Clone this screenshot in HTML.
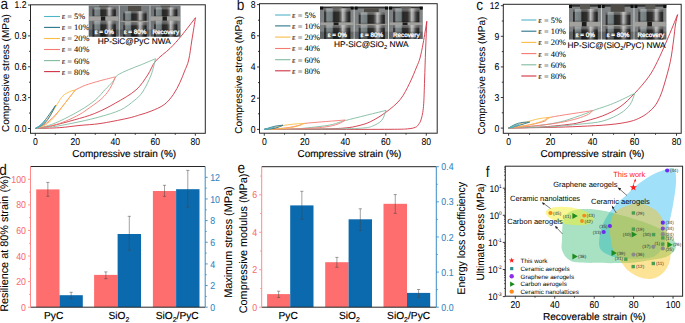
<!DOCTYPE html><html><head><meta charset="utf-8"><style>html,body{margin:0;padding:0;background:#fff;overflow:hidden}svg{display:block}text{text-rendering:geometricPrecision}</style></head><body>
<svg width="685" height="323" viewBox="0 0 685 323">
<defs>
<linearGradient id="cyl" x1="0" x2="1" y1="0" y2="0">
<stop offset="0" stop-color="#2a2a2a"/><stop offset="0.06" stop-color="#4a4a4a"/><stop offset="0.1" stop-color="#9aa6a8"/>
<stop offset="0.3" stop-color="#8a9698"/><stop offset="0.36" stop-color="#2e2e2e"/><stop offset="0.55" stop-color="#3c3a38"/>
<stop offset="0.63" stop-color="#7a7a7a"/><stop offset="0.7" stop-color="#e2e2e2"/><stop offset="0.77" stop-color="#b5b5b5"/>
<stop offset="0.86" stop-color="#555"/><stop offset="0.95" stop-color="#2a2a2a"/><stop offset="1" stop-color="#444"/></linearGradient>
<linearGradient id="bgp" x1="0" x2="1"><stop offset="0" stop-color="#8c9296"/><stop offset="0.5" stop-color="#a2a5a6"/><stop offset="1" stop-color="#9a9c9c"/></linearGradient>
<linearGradient id="shade" x1="0" x2="0" y1="0" y2="1"><stop offset="0" stop-color="#fff" stop-opacity="0.45"/><stop offset="0.2" stop-color="#fff" stop-opacity="0.25"/><stop offset="0.26" stop-color="#fff" stop-opacity="0"/><stop offset="0.85" stop-color="#000" stop-opacity="0"/><stop offset="1" stop-color="#000" stop-opacity="0.3"/></linearGradient>

</defs>
<path d="M35.30,128.50 C37.97,128.07 44.83,127.35 51.30,125.93 C57.77,124.50 66.87,122.03 74.10,119.96 C81.33,117.88 87.83,116.27 94.70,113.48 C101.57,110.68 108.43,107.10 115.30,103.19 C122.17,99.28 130.50,94.71 135.90,90.02 C141.30,85.32 144.42,79.81 147.70,74.99 C150.98,70.17 151.88,65.53 155.60,61.10 C159.32,56.68 165.72,52.65 170.00,48.44 C174.28,44.24 177.05,41.02 181.30,35.89 C185.55,30.76 193.13,20.71 195.50,17.68" fill="none" stroke="#cf3243" stroke-width="0.9" stroke-linejoin="round"/>
<path d="M195.50,17.68 C194.90,21.40 193.03,32.96 191.90,40.01 C190.77,47.05 189.92,54.79 188.70,59.97 C187.48,65.15 186.05,67.36 184.60,71.08 C183.15,74.80 181.87,78.40 180.00,82.30 C178.13,86.19 176.03,90.72 173.40,94.44 C170.77,98.16 167.92,101.85 164.20,104.63 C160.48,107.41 155.13,109.41 151.10,111.11 C147.07,112.81 144.02,113.60 140.00,114.81 C135.98,116.03 133.67,116.96 127.00,118.42 C120.33,119.87 107.83,122.39 100.00,123.56 C92.17,124.73 86.78,124.73 80.00,125.41 C73.22,126.10 66.75,127.16 59.30,127.68 C51.85,128.19 39.30,128.36 35.30,128.50" fill="none" stroke="#cf3243" stroke-width="0.9" stroke-linejoin="round"/>
<path d="M35.30,128.50 C36.97,128.16 41.30,127.64 45.30,126.44 C49.30,125.24 53.52,123.96 59.30,121.30 C65.08,118.64 74.00,114.04 80.00,110.49 C86.00,106.94 91.08,103.51 95.30,100.00 C99.52,96.48 102.47,92.36 105.30,89.40 C108.13,86.43 110.28,84.54 112.30,82.19 C114.32,79.85 114.68,77.38 117.40,75.30 C120.12,73.23 124.62,71.51 128.60,69.74 C132.58,67.98 136.82,66.54 141.30,64.70 C145.78,62.87 153.13,59.73 155.50,58.73" fill="none" stroke="#82bba0" stroke-width="0.9" stroke-linejoin="round"/>
<path d="M155.50,58.73 C154.77,61.44 153.25,69.45 151.10,74.99 C148.95,80.53 145.43,87.70 142.60,91.97 C139.77,96.24 137.78,97.61 134.10,100.61 C130.42,103.62 126.18,107.29 120.50,109.98 C114.82,112.67 106.75,114.83 100.00,116.77 C93.25,118.71 87.45,119.99 80.00,121.61 C72.55,123.22 62.75,125.29 55.30,126.44 C47.85,127.59 38.63,128.16 35.30,128.50" fill="none" stroke="#82bba0" stroke-width="0.9" stroke-linejoin="round"/>
<path d="M35.30,128.50 C36.63,127.99 39.97,127.64 43.30,125.41 C46.63,123.18 51.63,118.90 55.30,115.12 C58.97,111.35 61.97,106.98 65.30,102.78 C68.63,98.57 73.63,92.06 75.30,89.91" fill="none" stroke="#f57a74" stroke-width="0.9" stroke-linejoin="round"/>
<path d="M75.30,89.91 C76.97,89.14 81.18,86.81 85.30,85.28 C89.42,83.76 94.97,82.16 100.00,80.75 C105.03,79.35 112.92,77.50 115.50,76.84" fill="none" stroke="#f57a74" stroke-width="0.9" stroke-linejoin="round"/>
<path d="M115.50,76.84 C114.97,78.08 113.67,81.65 112.30,84.25 C110.93,86.86 109.33,89.86 107.30,92.48 C105.27,95.11 103.10,97.42 100.10,100.00 C97.10,102.57 92.65,105.55 89.30,107.92 C85.95,110.29 84.00,111.97 80.00,114.20 C76.00,116.43 70.08,119.34 65.30,121.30 C60.52,123.25 56.30,124.73 51.30,125.93 C46.30,127.13 37.97,128.07 35.30,128.50" fill="none" stroke="#f57a74" stroke-width="0.9" stroke-linejoin="round"/>
<path d="M35.30,128.50 C36.30,127.99 39.30,126.96 41.30,125.41 C43.30,123.87 45.23,121.81 47.30,119.24 C49.37,116.67 51.20,113.75 53.70,109.98 C56.20,106.20 59.63,99.65 62.30,96.60 C64.97,93.55 67.50,92.78 69.70,91.66 C71.90,90.55 74.53,90.20 75.50,89.91" fill="none" stroke="#f9bd48" stroke-width="0.9" stroke-linejoin="round"/>
<path d="M75.50,89.91 C74.47,91.20 71.67,94.63 69.30,97.63 C66.93,100.63 63.97,104.49 61.30,107.92 C58.63,111.35 55.97,115.38 53.30,118.21 C50.63,121.04 48.30,123.18 45.30,124.90 C42.30,126.61 36.97,127.90 35.30,128.50" fill="none" stroke="#f9bd48" stroke-width="0.9" stroke-linejoin="round"/>
<path d="M35.30,128.50 C36.30,127.81 39.30,126.27 41.30,124.38 C43.30,122.50 44.93,120.34 47.30,117.18 C49.67,114.03 54.13,107.41 55.50,105.45" fill="none" stroke="#2b7489" stroke-width="0.9" stroke-linejoin="round"/>
<path d="M55.50,105.45 C54.47,107.41 51.33,114.03 49.30,117.18 C47.27,120.34 45.63,122.50 43.30,124.38 C40.97,126.27 36.63,127.81 35.30,128.50" fill="none" stroke="#2b7489" stroke-width="0.9" stroke-linejoin="round"/>
<path d="M35.30,128.50 C36.13,127.99 38.63,126.78 40.30,125.41 C41.97,124.04 44.47,121.13 45.30,120.27" fill="none" stroke="#4fb3c9" stroke-width="0.9" stroke-linejoin="round"/>
<path d="M45.30,120.27 C44.63,121.13 42.97,124.04 41.30,125.41 C39.63,126.78 36.30,127.99 35.30,128.50" fill="none" stroke="#4fb3c9" stroke-width="0.9" stroke-linejoin="round"/>
<rect x="30.5" y="4.8" width="174.8" height="128.5" fill="none" stroke="#262626" stroke-width="1"/>
<line x1="35.30" y1="133.3" x2="35.30" y2="135.8" stroke="#262626" stroke-width="0.9"/>
<text transform="translate(35.30,144.70000000000002) scale(0.875,1)" font-size="9.9" text-anchor="middle" fill="#000" stroke="#000" stroke-width="0.05" font-family='"Liberation Sans", sans-serif'>0</text>
<line x1="75.30" y1="133.3" x2="75.30" y2="135.8" stroke="#262626" stroke-width="0.9"/>
<text transform="translate(75.30,144.70000000000002) scale(0.875,1)" font-size="9.9" text-anchor="middle" fill="#000" stroke="#000" stroke-width="0.05" font-family='"Liberation Sans", sans-serif'>20</text>
<line x1="115.30" y1="133.3" x2="115.30" y2="135.8" stroke="#262626" stroke-width="0.9"/>
<text transform="translate(115.30,144.70000000000002) scale(0.875,1)" font-size="9.9" text-anchor="middle" fill="#000" stroke="#000" stroke-width="0.05" font-family='"Liberation Sans", sans-serif'>40</text>
<line x1="155.30" y1="133.3" x2="155.30" y2="135.8" stroke="#262626" stroke-width="0.9"/>
<text transform="translate(155.30,144.70000000000002) scale(0.875,1)" font-size="9.9" text-anchor="middle" fill="#000" stroke="#000" stroke-width="0.05" font-family='"Liberation Sans", sans-serif'>60</text>
<line x1="195.30" y1="133.3" x2="195.30" y2="135.8" stroke="#262626" stroke-width="0.9"/>
<text transform="translate(195.30,144.70000000000002) scale(0.875,1)" font-size="9.9" text-anchor="middle" fill="#000" stroke="#000" stroke-width="0.05" font-family='"Liberation Sans", sans-serif'>80</text>
<line x1="55.30" y1="133.3" x2="55.30" y2="134.8" stroke="#262626" stroke-width="0.9"/>
<line x1="95.30" y1="133.3" x2="95.30" y2="134.8" stroke="#262626" stroke-width="0.9"/>
<line x1="135.30" y1="133.3" x2="135.30" y2="134.8" stroke="#262626" stroke-width="0.9"/>
<line x1="175.30" y1="133.3" x2="175.30" y2="134.8" stroke="#262626" stroke-width="0.9"/>
<line x1="28.0" y1="128.50" x2="30.5" y2="128.50" stroke="#262626" stroke-width="0.9"/>
<text transform="translate(26.5,131.95) scale(0.875,1)" font-size="9.9" text-anchor="end" fill="#000" stroke="#000" stroke-width="0.05" font-family='"Liberation Sans", sans-serif'>0.0</text>
<line x1="28.0" y1="97.63" x2="30.5" y2="97.63" stroke="#262626" stroke-width="0.9"/>
<text transform="translate(26.5,101.08) scale(0.875,1)" font-size="9.9" text-anchor="end" fill="#000" stroke="#000" stroke-width="0.05" font-family='"Liberation Sans", sans-serif'>0.3</text>
<line x1="28.0" y1="66.76" x2="30.5" y2="66.76" stroke="#262626" stroke-width="0.9"/>
<text transform="translate(26.5,70.21) scale(0.875,1)" font-size="9.9" text-anchor="end" fill="#000" stroke="#000" stroke-width="0.05" font-family='"Liberation Sans", sans-serif'>0.6</text>
<line x1="28.0" y1="35.89" x2="30.5" y2="35.89" stroke="#262626" stroke-width="0.9"/>
<text transform="translate(26.5,39.34) scale(0.875,1)" font-size="9.9" text-anchor="end" fill="#000" stroke="#000" stroke-width="0.05" font-family='"Liberation Sans", sans-serif'>0.9</text>
<line x1="28.0" y1="5.02" x2="30.5" y2="5.02" stroke="#262626" stroke-width="0.9"/>
<text transform="translate(26.5,8.47) scale(0.875,1)" font-size="9.9" text-anchor="end" fill="#000" stroke="#000" stroke-width="0.05" font-family='"Liberation Sans", sans-serif'>1.2</text>
<line x1="29.0" y1="113.06" x2="30.5" y2="113.06" stroke="#262626" stroke-width="0.9"/>
<line x1="29.0" y1="82.19" x2="30.5" y2="82.19" stroke="#262626" stroke-width="0.9"/>
<line x1="29.0" y1="51.32" x2="30.5" y2="51.32" stroke="#262626" stroke-width="0.9"/>
<line x1="29.0" y1="20.45" x2="30.5" y2="20.45" stroke="#262626" stroke-width="0.9"/>
<text x="124.2" y="156.8" font-size="10" text-anchor="middle" fill="#000" font-family='"Liberation Sans", sans-serif' stroke="#000" stroke-width="0.15">Compressive strain (%)</text>
<text transform="translate(8.6,73.1) rotate(-90) scale(1,1)" font-size="10" text-anchor="middle" fill="#000" stroke="#000" stroke-width="0.06" font-family='"Liberation Sans", sans-serif'>Compressive stress (MPa)</text>
<text transform="translate(0.6,9.0) scale(0.88,1)" font-size="15.5" fill="#111" font-family='"Liberation Sans", sans-serif'>a</text>
<line x1="44.1" y1="16.5" x2="60.0" y2="16.5" stroke="#4fb3c9" stroke-width="1.1"/>
<text x="61.7" y="19.40" font-size="8.4" text-anchor="start" fill="#000" font-family='"Liberation Serif", serif' stroke="#000" stroke-width="0.05">ε = 5%</text>
<line x1="44.1" y1="27.4" x2="60.0" y2="27.4" stroke="#2b7489" stroke-width="1.1"/>
<text x="61.7" y="30.30" font-size="8.4" text-anchor="start" fill="#000" font-family='"Liberation Serif", serif' stroke="#000" stroke-width="0.05">ε = 10%</text>
<line x1="44.1" y1="38.5" x2="60.0" y2="38.5" stroke="#f9bd48" stroke-width="1.1"/>
<text x="61.7" y="41.40" font-size="8.4" text-anchor="start" fill="#000" font-family='"Liberation Serif", serif' stroke="#000" stroke-width="0.05">ε = 20%</text>
<line x1="44.1" y1="49.5" x2="60.0" y2="49.5" stroke="#f57a74" stroke-width="1.1"/>
<text x="61.7" y="52.40" font-size="8.4" text-anchor="start" fill="#000" font-family='"Liberation Serif", serif' stroke="#000" stroke-width="0.05">ε = 40%</text>
<line x1="44.1" y1="60.6" x2="60.0" y2="60.6" stroke="#82bba0" stroke-width="1.1"/>
<text x="61.7" y="63.50" font-size="8.4" text-anchor="start" fill="#000" font-family='"Liberation Serif", serif' stroke="#000" stroke-width="0.05">ε = 60%</text>
<line x1="44.1" y1="71.6" x2="60.0" y2="71.6" stroke="#cf3243" stroke-width="1.1"/>
<text x="61.7" y="74.50" font-size="8.4" text-anchor="start" fill="#000" font-family='"Liberation Serif", serif' stroke="#000" stroke-width="0.05">ε = 80%</text>
<g transform="translate(88.80,5.6) scale(0.9375,1.0000)">
<rect x="0" y="0" width="32" height="31" fill="#7f868a"/>
<rect x="0" y="0" width="32" height="31" fill="url(#bgp)" opacity="0.5"/>
<rect x="11" y="0" width="10" height="2.4" fill="#6d6a64"/>
<rect x="4" y="1.9" width="25" height="8.90" fill="url(#cyl)"/><rect x="4" y="1.9" width="25" height="8.90" fill="url(#shade)"/>
<rect x="0.5" y="10.8" width="31" height="4.40" fill="#c3c2bd"/>
<rect x="12.9" y="10.8" width="4.7" height="4.40" fill="#222"/>
<rect x="4" y="15.2" width="25" height="15.80" fill="url(#cyl)"/><rect x="4" y="15.2" width="25" height="15.80" fill="url(#shade)"/>
<rect x="0" y="24" width="32" height="7" fill="#000" opacity="0.22"/>
<rect x="0" y="0" width="32" height="31" fill="#000" opacity="0.17"/>
</g>
<text x="104.20" y="34.40" font-size="6.3" text-anchor="middle" fill="#ffffff" font-family='"Liberation Sans", sans-serif' stroke="#fff" stroke-width="0.3">ε = 0%</text>
<g transform="translate(119.60,5.6) scale(0.9375,1.0000)">
<rect x="0" y="0" width="32" height="31" fill="#7f868a"/>
<rect x="0" y="0" width="32" height="31" fill="url(#bgp)" opacity="0.5"/>
<rect x="9" y="0.4" width="14" height="5.3999999999999995" fill="#5e5b55"/>
<rect x="4" y="5.8" width="25" height="9.40" fill="url(#cyl)"/><rect x="4" y="5.8" width="25" height="9.40" fill="url(#shade)"/>
<rect x="1" y="15.2" width="30" height="1.20" fill="#bdbab2"/>
<rect x="4" y="16.4" width="25" height="14.60" fill="url(#cyl)"/><rect x="4" y="16.4" width="25" height="14.60" fill="url(#shade)"/>
<rect x="0" y="24" width="32" height="7" fill="#000" opacity="0.22"/>
<rect x="0" y="0" width="32" height="31" fill="#000" opacity="0.17"/>
</g>
<text x="135.00" y="34.40" font-size="6.3" text-anchor="middle" fill="#ffffff" font-family='"Liberation Sans", sans-serif' stroke="#fff" stroke-width="0.3">ε = 80%</text>
<g transform="translate(150.40,5.6) scale(0.9375,1.0000)">
<rect x="0" y="0" width="32" height="31" fill="#7f868a"/>
<rect x="0" y="0" width="32" height="31" fill="url(#bgp)" opacity="0.5"/>
<rect x="11" y="0" width="10" height="2.4" fill="#6d6a64"/>
<rect x="4" y="1.9" width="25" height="8.90" fill="url(#cyl)"/><rect x="4" y="1.9" width="25" height="8.90" fill="url(#shade)"/>
<rect x="0.5" y="10.8" width="31" height="4.40" fill="#c3c2bd"/>
<rect x="12.9" y="10.8" width="4.7" height="4.40" fill="#222"/>
<rect x="4" y="15.2" width="25" height="15.80" fill="url(#cyl)"/><rect x="4" y="15.2" width="25" height="15.80" fill="url(#shade)"/>
<rect x="0" y="24" width="32" height="7" fill="#000" opacity="0.22"/>
<rect x="0" y="0" width="32" height="31" fill="#000" opacity="0.17"/>
</g>
<text x="165.80" y="34.40" font-size="6.3" text-anchor="middle" fill="#ffffff" font-family='"Liberation Sans", sans-serif' stroke="#fff" stroke-width="0.3">Recovery</text>
<text x="134.2" y="44.2" font-size="8.3" text-anchor="middle" fill="#000" stroke="#000" stroke-width="0.1" font-family='"Liberation Sans", sans-serif'>HP-SiC@PyC NWA</text>
<path d="M264.30,129.40 C273.58,129.33 306.55,129.23 320.00,129.00 C333.45,128.77 338.67,128.53 345.00,128.00 C351.33,127.47 353.80,126.83 358.00,125.80 C362.20,124.77 365.53,124.07 370.20,121.80 C374.87,119.53 380.98,115.93 386.00,112.20 C391.02,108.47 396.37,104.23 400.30,99.40 C404.23,94.57 406.88,88.60 409.60,83.20 C412.32,77.80 414.87,71.20 416.60,67.00 C418.33,62.80 418.90,62.00 420.00,58.00 C421.10,54.00 422.07,49.12 423.20,43.00 C424.33,36.88 426.20,24.92 426.80,21.30" fill="none" stroke="#cf3243" stroke-width="0.9" stroke-linejoin="round"/>
<path d="M426.80,21.30 C426.60,26.08 425.97,40.22 425.60,50.00 C425.23,59.78 424.95,70.60 424.60,80.00 C424.25,89.40 424.07,99.87 423.50,106.40 C422.93,112.93 422.03,116.18 421.20,119.20 C420.37,122.22 419.47,123.15 418.50,124.50 C417.53,125.85 417.27,126.57 415.40,127.30 C413.53,128.03 411.53,128.57 407.30,128.90 C403.07,129.23 402.88,129.22 390.00,129.30 C377.12,129.38 350.95,129.38 330.00,129.40 C309.05,129.42 275.25,129.40 264.30,129.40" fill="none" stroke="#cf3243" stroke-width="0.9" stroke-linejoin="round"/>
<path d="M264.30,129.40 C268.58,129.37 283.05,129.43 290.00,129.20 C296.95,128.97 299.33,128.70 306.00,128.00 C312.67,127.30 323.42,126.25 330.00,125.00 C336.58,123.75 336.17,122.93 345.50,120.50 C354.83,118.07 379.25,112.08 386.00,110.40" fill="none" stroke="#82bba0" stroke-width="0.9" stroke-linejoin="round"/>
<path d="M386.00,110.40 C385.30,112.05 384.05,117.68 381.80,120.30 C379.55,122.92 375.60,124.82 372.50,126.10 C369.40,127.38 368.62,127.53 363.20,128.00 C357.78,128.47 356.48,128.67 340.00,128.90 C323.52,129.13 276.92,129.32 264.30,129.40" fill="none" stroke="#82bba0" stroke-width="0.9" stroke-linejoin="round"/>
<path d="M264.30,129.40 C267.75,129.17 279.05,128.70 285.00,128.00 C290.95,127.30 296.73,125.97 300.00,125.20 C303.27,124.43 297.07,124.27 304.60,123.40 C312.13,122.53 338.43,120.57 345.20,120.00" fill="none" stroke="#f57a74" stroke-width="0.9" stroke-linejoin="round"/>
<path d="M345.20,120.00 C344.00,120.67 341.37,122.83 338.00,124.00 C334.63,125.17 331.33,126.20 325.00,127.00 C318.67,127.80 310.12,128.40 300.00,128.80 C289.88,129.20 270.25,129.30 264.30,129.40" fill="none" stroke="#f57a74" stroke-width="0.9" stroke-linejoin="round"/>
<path d="M264.30,129.40 C266.08,129.03 271.55,127.90 275.00,127.20 C278.45,126.50 281.67,125.73 285.00,125.20 C288.33,124.67 291.73,124.30 295.00,124.00 C298.27,123.70 303.00,123.50 304.60,123.40" fill="none" stroke="#f9bd48" stroke-width="0.9" stroke-linejoin="round"/>
<path d="M304.60,123.40 C303.33,123.87 299.77,125.43 297.00,126.20 C294.23,126.97 291.67,127.53 288.00,128.00 C284.33,128.47 278.95,128.77 275.00,129.00 C271.05,129.23 266.08,129.33 264.30,129.40" fill="none" stroke="#f9bd48" stroke-width="0.9" stroke-linejoin="round"/>
<path d="M264.30,129.40 C265.25,129.10 268.05,128.17 270.00,127.60 C271.95,127.03 273.83,126.40 276.00,126.00 C278.17,125.60 281.83,125.33 283.00,125.20" fill="none" stroke="#2b7489" stroke-width="0.9" stroke-linejoin="round"/>
<path d="M283.00,125.20 C282.17,125.55 279.83,126.72 278.00,127.30 C276.17,127.88 274.28,128.35 272.00,128.70 C269.72,129.05 265.58,129.28 264.30,129.40" fill="none" stroke="#2b7489" stroke-width="0.9" stroke-linejoin="round"/>
<path d="M264.30,129.40 C265.25,129.17 268.32,128.38 270.00,128.00 C271.68,127.62 273.67,127.25 274.40,127.10" fill="none" stroke="#4fb3c9" stroke-width="0.9" stroke-linejoin="round"/>
<path d="M274.40,127.10 C273.67,127.38 271.68,128.42 270.00,128.80 C268.32,129.18 265.25,129.30 264.30,129.40" fill="none" stroke="#4fb3c9" stroke-width="0.9" stroke-linejoin="round"/>
<rect x="259.5" y="3.7" width="177.7" height="129.5" fill="none" stroke="#262626" stroke-width="1"/>
<line x1="264.30" y1="133.2" x2="264.30" y2="135.7" stroke="#262626" stroke-width="0.9"/>
<text transform="translate(264.30,144.6) scale(0.875,1)" font-size="9.9" text-anchor="middle" fill="#000" stroke="#000" stroke-width="0.05" font-family='"Liberation Sans", sans-serif'>0</text>
<line x1="304.80" y1="133.2" x2="304.80" y2="135.7" stroke="#262626" stroke-width="0.9"/>
<text transform="translate(304.80,144.6) scale(0.875,1)" font-size="9.9" text-anchor="middle" fill="#000" stroke="#000" stroke-width="0.05" font-family='"Liberation Sans", sans-serif'>20</text>
<line x1="345.30" y1="133.2" x2="345.30" y2="135.7" stroke="#262626" stroke-width="0.9"/>
<text transform="translate(345.30,144.6) scale(0.875,1)" font-size="9.9" text-anchor="middle" fill="#000" stroke="#000" stroke-width="0.05" font-family='"Liberation Sans", sans-serif'>40</text>
<line x1="385.80" y1="133.2" x2="385.80" y2="135.7" stroke="#262626" stroke-width="0.9"/>
<text transform="translate(385.80,144.6) scale(0.875,1)" font-size="9.9" text-anchor="middle" fill="#000" stroke="#000" stroke-width="0.05" font-family='"Liberation Sans", sans-serif'>60</text>
<line x1="426.30" y1="133.2" x2="426.30" y2="135.7" stroke="#262626" stroke-width="0.9"/>
<text transform="translate(426.30,144.6) scale(0.875,1)" font-size="9.9" text-anchor="middle" fill="#000" stroke="#000" stroke-width="0.05" font-family='"Liberation Sans", sans-serif'>80</text>
<line x1="284.55" y1="133.2" x2="284.55" y2="134.7" stroke="#262626" stroke-width="0.9"/>
<line x1="325.05" y1="133.2" x2="325.05" y2="134.7" stroke="#262626" stroke-width="0.9"/>
<line x1="365.55" y1="133.2" x2="365.55" y2="134.7" stroke="#262626" stroke-width="0.9"/>
<line x1="406.05" y1="133.2" x2="406.05" y2="134.7" stroke="#262626" stroke-width="0.9"/>
<line x1="257.0" y1="129.40" x2="259.5" y2="129.40" stroke="#262626" stroke-width="0.9"/>
<text transform="translate(255.5,132.85) scale(0.875,1)" font-size="9.9" text-anchor="end" fill="#000" stroke="#000" stroke-width="0.05" font-family='"Liberation Sans", sans-serif'>0</text>
<line x1="257.0" y1="98.20" x2="259.5" y2="98.20" stroke="#262626" stroke-width="0.9"/>
<text transform="translate(255.5,101.65) scale(0.875,1)" font-size="9.9" text-anchor="end" fill="#000" stroke="#000" stroke-width="0.05" font-family='"Liberation Sans", sans-serif'>2</text>
<line x1="257.0" y1="67.00" x2="259.5" y2="67.00" stroke="#262626" stroke-width="0.9"/>
<text transform="translate(255.5,70.45) scale(0.875,1)" font-size="9.9" text-anchor="end" fill="#000" stroke="#000" stroke-width="0.05" font-family='"Liberation Sans", sans-serif'>4</text>
<line x1="257.0" y1="35.80" x2="259.5" y2="35.80" stroke="#262626" stroke-width="0.9"/>
<text transform="translate(255.5,39.25) scale(0.875,1)" font-size="9.9" text-anchor="end" fill="#000" stroke="#000" stroke-width="0.05" font-family='"Liberation Sans", sans-serif'>6</text>
<line x1="257.0" y1="4.60" x2="259.5" y2="4.60" stroke="#262626" stroke-width="0.9"/>
<text transform="translate(255.5,8.05) scale(0.875,1)" font-size="9.9" text-anchor="end" fill="#000" stroke="#000" stroke-width="0.05" font-family='"Liberation Sans", sans-serif'>8</text>
<line x1="258.0" y1="113.80" x2="259.5" y2="113.80" stroke="#262626" stroke-width="0.9"/>
<line x1="258.0" y1="82.60" x2="259.5" y2="82.60" stroke="#262626" stroke-width="0.9"/>
<line x1="258.0" y1="51.40" x2="259.5" y2="51.40" stroke="#262626" stroke-width="0.9"/>
<line x1="258.0" y1="20.20" x2="259.5" y2="20.20" stroke="#262626" stroke-width="0.9"/>
<text x="349.4" y="156.8" font-size="10" text-anchor="middle" fill="#000" font-family='"Liberation Sans", sans-serif' stroke="#000" stroke-width="0.15">Compressive strain (%)</text>
<text transform="translate(241.9,74.9) rotate(-90) scale(1,1)" font-size="10" text-anchor="middle" fill="#000" stroke="#000" stroke-width="0.06" font-family='"Liberation Sans", sans-serif'>Compressive stress (MPa)</text>
<text transform="translate(236.7,10.4) scale(0.88,1)" font-size="15.5" fill="#111" font-family='"Liberation Sans", sans-serif'>b</text>
<line x1="275.1" y1="15" x2="290.5" y2="15" stroke="#4fb3c9" stroke-width="1.1"/>
<text x="292.1" y="17.90" font-size="8.4" text-anchor="start" fill="#000" font-family='"Liberation Serif", serif' stroke="#000" stroke-width="0.05">ε = 5%</text>
<line x1="275.1" y1="25.9" x2="290.5" y2="25.9" stroke="#2b7489" stroke-width="1.1"/>
<text x="292.1" y="28.80" font-size="8.4" text-anchor="start" fill="#000" font-family='"Liberation Serif", serif' stroke="#000" stroke-width="0.05">ε = 10%</text>
<line x1="275.1" y1="37.1" x2="290.5" y2="37.1" stroke="#f9bd48" stroke-width="1.1"/>
<text x="292.1" y="40.00" font-size="8.4" text-anchor="start" fill="#000" font-family='"Liberation Serif", serif' stroke="#000" stroke-width="0.05">ε = 20%</text>
<line x1="275.1" y1="48.5" x2="290.5" y2="48.5" stroke="#f57a74" stroke-width="1.1"/>
<text x="292.1" y="51.40" font-size="8.4" text-anchor="start" fill="#000" font-family='"Liberation Serif", serif' stroke="#000" stroke-width="0.05">ε = 40%</text>
<line x1="275.1" y1="59.7" x2="290.5" y2="59.7" stroke="#82bba0" stroke-width="1.1"/>
<text x="292.1" y="62.60" font-size="8.4" text-anchor="start" fill="#000" font-family='"Liberation Serif", serif' stroke="#000" stroke-width="0.05">ε = 60%</text>
<line x1="275.1" y1="70.8" x2="290.5" y2="70.8" stroke="#cf3243" stroke-width="1.1"/>
<text x="292.1" y="73.70" font-size="8.4" text-anchor="start" fill="#000" font-family='"Liberation Serif", serif' stroke="#000" stroke-width="0.05">ε = 80%</text>
<g transform="translate(320.00,6.7) scale(1.0531,1.0387)">
<rect x="0" y="0" width="32" height="31" fill="#9fa3a4"/>
<rect x="0" y="0" width="32" height="31" fill="url(#bgp)" opacity="0.5"/>
<rect x="0" y="0" width="32" height="1.6" fill="#1a1a1a" opacity="0.75"/>
<rect x="0" y="0" width="3" height="2.8" fill="#111"/><rect x="29" y="0" width="3" height="2.8" fill="#111"/>
<rect x="11" y="0" width="10" height="2.2" fill="#6d6a64"/>
<rect x="4" y="1.7" width="25" height="13.50" fill="url(#cyl)"/><rect x="4" y="1.7" width="25" height="13.50" fill="url(#shade)"/>
<rect x="0.5" y="15.2" width="31" height="2.40" fill="#c3c2bd"/>
<rect x="12.9" y="15.2" width="4.7" height="2.40" fill="#222"/>
<rect x="4" y="17.6" width="25" height="13.40" fill="url(#cyl)"/><rect x="4" y="17.6" width="25" height="13.40" fill="url(#shade)"/>
<rect x="0" y="24" width="32" height="7" fill="#000" opacity="0.22"/>
<rect x="0" y="0" width="32" height="31" fill="#000" opacity="0.17"/>
</g>
<text x="337.25" y="36.70" font-size="6.3" text-anchor="middle" fill="#ffffff" font-family='"Liberation Sans", sans-serif' stroke="#fff" stroke-width="0.3">ε = 0%</text>
<g transform="translate(354.50,6.7) scale(1.0531,1.0387)">
<rect x="0" y="0" width="32" height="31" fill="#9fa3a4"/>
<rect x="0" y="0" width="32" height="31" fill="url(#bgp)" opacity="0.5"/>
<rect x="0" y="0" width="32" height="1.6" fill="#1a1a1a" opacity="0.75"/>
<rect x="0" y="0" width="3" height="2.8" fill="#111"/><rect x="29" y="0" width="3" height="2.8" fill="#111"/>
<rect x="9" y="1.6" width="14" height="3.9" fill="#5e5b55"/>
<rect x="4" y="5.5" width="25" height="11.00" fill="url(#cyl)"/><rect x="4" y="5.5" width="25" height="11.00" fill="url(#shade)"/>
<rect x="1" y="16.5" width="30" height="1.10" fill="#bdbab2"/>
<rect x="4" y="17.6" width="25" height="13.40" fill="url(#cyl)"/><rect x="4" y="17.6" width="25" height="13.40" fill="url(#shade)"/>
<rect x="0" y="24" width="32" height="7" fill="#000" opacity="0.22"/>
<rect x="0" y="0" width="32" height="31" fill="#000" opacity="0.17"/>
</g>
<text x="371.75" y="36.70" font-size="6.3" text-anchor="middle" fill="#ffffff" font-family='"Liberation Sans", sans-serif' stroke="#fff" stroke-width="0.3">ε = 80%</text>
<g transform="translate(389.00,6.7) scale(1.0531,1.0387)">
<rect x="0" y="0" width="32" height="31" fill="#9fa3a4"/>
<rect x="0" y="0" width="32" height="31" fill="url(#bgp)" opacity="0.5"/>
<rect x="0" y="0" width="32" height="1.6" fill="#1a1a1a" opacity="0.75"/>
<rect x="0" y="0" width="3" height="2.8" fill="#111"/><rect x="29" y="0" width="3" height="2.8" fill="#111"/>
<rect x="11" y="0" width="10" height="2.2" fill="#6d6a64"/>
<rect x="4" y="1.7" width="25" height="13.50" fill="url(#cyl)"/><rect x="4" y="1.7" width="25" height="13.50" fill="url(#shade)"/>
<rect x="0.5" y="15.2" width="31" height="2.40" fill="#c3c2bd"/>
<rect x="12.9" y="15.2" width="4.7" height="2.40" fill="#222"/>
<rect x="4" y="17.6" width="25" height="13.40" fill="url(#cyl)"/><rect x="4" y="17.6" width="25" height="13.40" fill="url(#shade)"/>
<rect x="0" y="24" width="32" height="7" fill="#000" opacity="0.22"/>
<rect x="0" y="0" width="32" height="31" fill="#000" opacity="0.17"/>
</g>
<text x="406.25" y="36.70" font-size="6.3" text-anchor="middle" fill="#ffffff" font-family='"Liberation Sans", sans-serif' stroke="#fff" stroke-width="0.3">Recovery</text>
<text x="371.3" y="46.6" font-size="8.3" text-anchor="middle" fill="#000" stroke="#000" stroke-width="0.1" font-family='"Liberation Sans", sans-serif'>HP-SiC@SiO<tspan font-size="5.8" dy="2">2</tspan><tspan dy="-2"> NWA</tspan></text>
<path d="M508.70,128.00 C513.92,127.85 530.28,127.67 540.00,127.10 C549.72,126.53 560.33,125.38 567.00,124.60 C573.67,123.82 574.12,123.83 580.00,122.40 C585.88,120.97 595.62,118.60 602.30,116.00 C608.98,113.40 614.72,110.57 620.10,106.80 C625.48,103.03 629.83,98.40 634.60,93.40 C639.37,88.40 644.92,82.08 648.70,76.80 C652.48,71.52 654.23,67.83 657.30,61.70 C660.37,55.57 663.72,47.85 667.10,40.00 C670.48,32.15 675.85,18.83 677.60,14.60" fill="none" stroke="#cf3243" stroke-width="0.9" stroke-linejoin="round"/>
<path d="M677.60,14.60 C677.23,16.33 676.07,20.77 675.40,25.00 C674.73,29.23 674.45,33.88 673.60,40.00 C672.75,46.12 671.88,54.20 670.30,61.70 C668.72,69.20 665.87,79.05 664.10,85.00 C662.33,90.95 661.25,93.90 659.70,97.40 C658.15,100.90 656.65,103.53 654.80,106.00 C652.95,108.47 650.88,110.33 648.60,112.20 C646.32,114.07 644.20,115.65 641.10,117.20 C638.00,118.75 635.18,120.27 630.00,121.50 C624.82,122.73 618.33,123.78 610.00,124.60 C601.67,125.42 590.00,125.93 580.00,126.40 C570.00,126.87 561.88,127.13 550.00,127.40 C538.12,127.67 515.58,127.90 508.70,128.00" fill="none" stroke="#cf3243" stroke-width="0.9" stroke-linejoin="round"/>
<path d="M508.70,128.00 C513.87,127.58 531.07,126.53 539.70,125.50 C548.33,124.47 554.73,123.12 560.50,121.80 C566.27,120.48 569.68,119.13 574.30,117.60 C578.92,116.07 585.13,113.77 588.20,112.60 C591.27,111.43 588.50,112.13 592.70,110.60 C596.90,109.07 606.38,106.28 613.40,103.40 C620.42,100.52 631.23,94.98 634.80,93.30" fill="none" stroke="#82bba0" stroke-width="0.9" stroke-linejoin="round"/>
<path d="M634.80,93.30 C634.02,95.17 632.55,101.13 630.10,104.50 C627.65,107.87 624.73,110.72 620.10,113.50 C615.47,116.28 608.98,119.43 602.30,121.20 C595.62,122.97 588.72,123.17 580.00,124.10 C571.28,125.03 561.88,126.15 550.00,126.80 C538.12,127.45 515.58,127.80 508.70,128.00" fill="none" stroke="#82bba0" stroke-width="0.9" stroke-linejoin="round"/>
<path d="M508.70,128.00 C512.25,127.47 523.95,125.97 530.00,124.80 C536.05,123.63 541.58,122.25 545.00,121.00 C548.42,119.75 542.55,119.03 550.50,117.30 C558.45,115.57 585.67,111.72 592.70,110.60" fill="none" stroke="#f57a74" stroke-width="0.9" stroke-linejoin="round"/>
<path d="M592.70,110.60 C591.95,111.23 590.80,113.07 588.20,114.40 C585.60,115.73 581.72,117.25 577.10,118.60 C572.48,119.95 566.73,121.38 560.50,122.50 C554.27,123.62 546.45,124.52 539.70,125.30 C532.95,126.08 525.17,126.75 520.00,127.20 C514.83,127.65 510.58,127.87 508.70,128.00" fill="none" stroke="#f57a74" stroke-width="0.9" stroke-linejoin="round"/>
<path d="M508.70,128.00 C509.75,127.58 511.45,126.67 515.00,125.50 C518.55,124.33 525.83,122.17 530.00,121.00 C534.17,119.83 536.58,119.12 540.00,118.50 C543.42,117.88 548.75,117.50 550.50,117.30" fill="none" stroke="#f9bd48" stroke-width="0.9" stroke-linejoin="round"/>
<path d="M550.50,117.30 C549.58,117.75 547.58,118.97 545.00,120.00 C542.42,121.03 539.17,122.42 535.00,123.50 C530.83,124.58 524.38,125.75 520.00,126.50 C515.62,127.25 510.58,127.75 508.70,128.00" fill="none" stroke="#f9bd48" stroke-width="0.9" stroke-linejoin="round"/>
<path d="M508.70,128.00 C509.75,127.42 512.78,125.42 515.00,124.50 C517.22,123.58 519.55,122.90 522.00,122.50 C524.45,122.10 528.42,122.17 529.70,122.10" fill="none" stroke="#2b7489" stroke-width="0.9" stroke-linejoin="round"/>
<path d="M529.70,122.10 C528.42,122.50 524.45,123.77 522.00,124.50 C519.55,125.23 517.22,125.92 515.00,126.50 C512.78,127.08 509.75,127.75 508.70,128.00" fill="none" stroke="#2b7489" stroke-width="0.9" stroke-linejoin="round"/>
<path d="M508.70,128.00 C509.42,127.67 511.28,126.53 513.00,126.00 C514.72,125.47 518.00,125.00 519.00,124.80" fill="none" stroke="#4fb3c9" stroke-width="0.9" stroke-linejoin="round"/>
<path d="M519.00,124.80 C518.00,125.20 514.72,126.67 513.00,127.20 C511.28,127.73 509.42,127.87 508.70,128.00" fill="none" stroke="#4fb3c9" stroke-width="0.9" stroke-linejoin="round"/>
<rect x="503.3" y="4.3" width="177.90000000000003" height="129.0" fill="none" stroke="#262626" stroke-width="1"/>
<line x1="508.60" y1="133.3" x2="508.60" y2="135.8" stroke="#262626" stroke-width="0.9"/>
<text transform="translate(508.60,144.70000000000002) scale(0.875,1)" font-size="9.9" text-anchor="middle" fill="#000" stroke="#000" stroke-width="0.05" font-family='"Liberation Sans", sans-serif'>0</text>
<line x1="550.58" y1="133.3" x2="550.58" y2="135.8" stroke="#262626" stroke-width="0.9"/>
<text transform="translate(550.58,144.70000000000002) scale(0.875,1)" font-size="9.9" text-anchor="middle" fill="#000" stroke="#000" stroke-width="0.05" font-family='"Liberation Sans", sans-serif'>20</text>
<line x1="592.56" y1="133.3" x2="592.56" y2="135.8" stroke="#262626" stroke-width="0.9"/>
<text transform="translate(592.56,144.70000000000002) scale(0.875,1)" font-size="9.9" text-anchor="middle" fill="#000" stroke="#000" stroke-width="0.05" font-family='"Liberation Sans", sans-serif'>40</text>
<line x1="634.54" y1="133.3" x2="634.54" y2="135.8" stroke="#262626" stroke-width="0.9"/>
<text transform="translate(634.54,144.70000000000002) scale(0.875,1)" font-size="9.9" text-anchor="middle" fill="#000" stroke="#000" stroke-width="0.05" font-family='"Liberation Sans", sans-serif'>60</text>
<line x1="676.52" y1="133.3" x2="676.52" y2="135.8" stroke="#262626" stroke-width="0.9"/>
<text transform="translate(676.52,144.70000000000002) scale(0.875,1)" font-size="9.9" text-anchor="middle" fill="#000" stroke="#000" stroke-width="0.05" font-family='"Liberation Sans", sans-serif'>80</text>
<line x1="529.59" y1="133.3" x2="529.59" y2="134.8" stroke="#262626" stroke-width="0.9"/>
<line x1="571.57" y1="133.3" x2="571.57" y2="134.8" stroke="#262626" stroke-width="0.9"/>
<line x1="613.55" y1="133.3" x2="613.55" y2="134.8" stroke="#262626" stroke-width="0.9"/>
<line x1="655.53" y1="133.3" x2="655.53" y2="134.8" stroke="#262626" stroke-width="0.9"/>
<line x1="500.8" y1="128.10" x2="503.3" y2="128.10" stroke="#262626" stroke-width="0.9"/>
<text transform="translate(499.3,131.55) scale(0.875,1)" font-size="9.9" text-anchor="end" fill="#000" stroke="#000" stroke-width="0.05" font-family='"Liberation Sans", sans-serif'>0</text>
<line x1="500.8" y1="97.50" x2="503.3" y2="97.50" stroke="#262626" stroke-width="0.9"/>
<text transform="translate(499.3,100.95) scale(0.875,1)" font-size="9.9" text-anchor="end" fill="#000" stroke="#000" stroke-width="0.05" font-family='"Liberation Sans", sans-serif'>3</text>
<line x1="500.8" y1="66.90" x2="503.3" y2="66.90" stroke="#262626" stroke-width="0.9"/>
<text transform="translate(499.3,70.35) scale(0.875,1)" font-size="9.9" text-anchor="end" fill="#000" stroke="#000" stroke-width="0.05" font-family='"Liberation Sans", sans-serif'>6</text>
<line x1="500.8" y1="36.30" x2="503.3" y2="36.30" stroke="#262626" stroke-width="0.9"/>
<text transform="translate(499.3,39.75) scale(0.875,1)" font-size="9.9" text-anchor="end" fill="#000" stroke="#000" stroke-width="0.05" font-family='"Liberation Sans", sans-serif'>9</text>
<line x1="500.8" y1="5.70" x2="503.3" y2="5.70" stroke="#262626" stroke-width="0.9"/>
<text transform="translate(499.3,9.15) scale(0.875,1)" font-size="9.9" text-anchor="end" fill="#000" stroke="#000" stroke-width="0.05" font-family='"Liberation Sans", sans-serif'>12</text>
<line x1="501.8" y1="112.80" x2="503.3" y2="112.80" stroke="#262626" stroke-width="0.9"/>
<line x1="501.8" y1="82.20" x2="503.3" y2="82.20" stroke="#262626" stroke-width="0.9"/>
<line x1="501.8" y1="51.60" x2="503.3" y2="51.60" stroke="#262626" stroke-width="0.9"/>
<line x1="501.8" y1="21.00" x2="503.3" y2="21.00" stroke="#262626" stroke-width="0.9"/>
<text x="592.5" y="156.8" font-size="10" text-anchor="middle" fill="#000" font-family='"Liberation Sans", sans-serif' stroke="#000" stroke-width="0.15">Compressive strain (%)</text>
<text transform="translate(485.3,75.6) rotate(-90) scale(1,1)" font-size="10" text-anchor="middle" fill="#000" stroke="#000" stroke-width="0.06" font-family='"Liberation Sans", sans-serif'>Compressive stress (MPa)</text>
<text transform="translate(476.3,9.8) scale(0.88,1)" font-size="15.5" fill="#111" font-family='"Liberation Sans", sans-serif'>c</text>
<line x1="521.3" y1="20" x2="536.4" y2="20" stroke="#4fb3c9" stroke-width="1.1"/>
<text x="538.3" y="22.90" font-size="8.4" text-anchor="start" fill="#000" font-family='"Liberation Serif", serif' stroke="#000" stroke-width="0.05">ε = 5%</text>
<line x1="521.3" y1="31.2" x2="536.4" y2="31.2" stroke="#2b7489" stroke-width="1.1"/>
<text x="538.3" y="34.10" font-size="8.4" text-anchor="start" fill="#000" font-family='"Liberation Serif", serif' stroke="#000" stroke-width="0.05">ε = 10%</text>
<line x1="521.3" y1="42.4" x2="536.4" y2="42.4" stroke="#f9bd48" stroke-width="1.1"/>
<text x="538.3" y="45.30" font-size="8.4" text-anchor="start" fill="#000" font-family='"Liberation Serif", serif' stroke="#000" stroke-width="0.05">ε = 20%</text>
<line x1="521.3" y1="53.6" x2="536.4" y2="53.6" stroke="#f57a74" stroke-width="1.1"/>
<text x="538.3" y="56.50" font-size="8.4" text-anchor="start" fill="#000" font-family='"Liberation Serif", serif' stroke="#000" stroke-width="0.05">ε = 40%</text>
<line x1="521.3" y1="64.8" x2="536.4" y2="64.8" stroke="#82bba0" stroke-width="1.1"/>
<text x="538.3" y="67.70" font-size="8.4" text-anchor="start" fill="#000" font-family='"Liberation Serif", serif' stroke="#000" stroke-width="0.05">ε = 60%</text>
<line x1="521.3" y1="76" x2="536.4" y2="76" stroke="#cf3243" stroke-width="1.1"/>
<text x="538.3" y="78.90" font-size="8.4" text-anchor="start" fill="#000" font-family='"Liberation Serif", serif' stroke="#000" stroke-width="0.05">ε = 80%</text>
<g transform="translate(569.00,4.9) scale(0.9969,1.1129)">
<rect x="0" y="0" width="32" height="31" fill="#9fa3a4"/>
<rect x="0" y="0" width="32" height="31" fill="url(#bgp)" opacity="0.5"/>
<rect x="0" y="0" width="32" height="1.6" fill="#1a1a1a" opacity="0.75"/>
<rect x="0" y="0" width="3" height="2.8" fill="#111"/><rect x="29" y="0" width="3" height="2.8" fill="#111"/>
<rect x="11" y="0" width="10" height="4.2" fill="#6d6a64"/>
<rect x="4" y="3.7" width="25" height="11.50" fill="url(#cyl)"/><rect x="4" y="3.7" width="25" height="11.50" fill="url(#shade)"/>
<rect x="0.5" y="15.2" width="31" height="4.30" fill="#c3c2bd"/>
<rect x="12.9" y="15.2" width="4.7" height="4.30" fill="#222"/>
<rect x="4" y="19.5" width="25" height="11.50" fill="url(#cyl)"/><rect x="4" y="19.5" width="25" height="11.50" fill="url(#shade)"/>
<rect x="0" y="24" width="32" height="7" fill="#000" opacity="0.22"/>
<rect x="0" y="0" width="32" height="31" fill="#000" opacity="0.17"/>
</g>
<text x="585.35" y="37.20" font-size="6.3" text-anchor="middle" fill="#ffffff" font-family='"Liberation Sans", sans-serif' stroke="#fff" stroke-width="0.3">ε = 0%</text>
<g transform="translate(601.70,4.9) scale(0.9969,1.1129)">
<rect x="0" y="0" width="32" height="31" fill="#9fa3a4"/>
<rect x="0" y="0" width="32" height="31" fill="url(#bgp)" opacity="0.5"/>
<rect x="0" y="0" width="32" height="1.6" fill="#1a1a1a" opacity="0.75"/>
<rect x="0" y="0" width="3" height="2.8" fill="#111"/><rect x="29" y="0" width="3" height="2.8" fill="#111"/>
<rect x="9" y="0" width="14" height="6.3" fill="#5e5b55"/>
<rect x="4" y="6.3" width="25" height="11.70" fill="url(#cyl)"/><rect x="4" y="6.3" width="25" height="11.70" fill="url(#shade)"/>
<rect x="1" y="18" width="30" height="0.90" fill="#bdbab2"/>
<rect x="4" y="18.9" width="25" height="12.10" fill="url(#cyl)"/><rect x="4" y="18.9" width="25" height="12.10" fill="url(#shade)"/>
<rect x="0" y="24" width="32" height="7" fill="#000" opacity="0.22"/>
<rect x="0" y="0" width="32" height="31" fill="#000" opacity="0.17"/>
</g>
<text x="618.05" y="37.20" font-size="6.3" text-anchor="middle" fill="#ffffff" font-family='"Liberation Sans", sans-serif' stroke="#fff" stroke-width="0.3">ε = 80%</text>
<g transform="translate(634.40,4.9) scale(0.9969,1.1129)">
<rect x="0" y="0" width="32" height="31" fill="#9fa3a4"/>
<rect x="0" y="0" width="32" height="31" fill="url(#bgp)" opacity="0.5"/>
<rect x="0" y="0" width="32" height="1.6" fill="#1a1a1a" opacity="0.75"/>
<rect x="0" y="0" width="3" height="2.8" fill="#111"/><rect x="29" y="0" width="3" height="2.8" fill="#111"/>
<rect x="11" y="0" width="10" height="4.2" fill="#6d6a64"/>
<rect x="4" y="3.7" width="25" height="11.50" fill="url(#cyl)"/><rect x="4" y="3.7" width="25" height="11.50" fill="url(#shade)"/>
<rect x="0.5" y="15.2" width="31" height="4.30" fill="#c3c2bd"/>
<rect x="12.9" y="15.2" width="4.7" height="4.30" fill="#222"/>
<rect x="4" y="19.5" width="25" height="11.50" fill="url(#cyl)"/><rect x="4" y="19.5" width="25" height="11.50" fill="url(#shade)"/>
<rect x="0" y="24" width="32" height="7" fill="#000" opacity="0.22"/>
<rect x="0" y="0" width="32" height="31" fill="#000" opacity="0.17"/>
</g>
<text x="650.75" y="37.20" font-size="6.3" text-anchor="middle" fill="#ffffff" font-family='"Liberation Sans", sans-serif' stroke="#fff" stroke-width="0.3">Recovery</text>
<text x="616.6" y="48" font-size="8.3" text-anchor="middle" fill="#000" stroke="#000" stroke-width="0.1" font-family='"Liberation Sans", sans-serif'>HP-SiC@(SiO<tspan font-size="5.8" dy="2">2</tspan><tspan dy="-2">/PyC) NWA</tspan></text>
<rect x="36.2" y="189.4" width="23.30" height="117.80" fill="#fe6e6e"/>
<rect x="59.5" y="295.2" width="23.30" height="12.00" fill="#0b6aad"/>
<rect x="94.1" y="274.9" width="23.50" height="32.30" fill="#fe6e6e"/>
<rect x="117.6" y="234.0" width="23.40" height="73.20" fill="#0b6aad"/>
<rect x="152.9" y="191.0" width="23.20" height="116.20" fill="#fe6e6e"/>
<rect x="176.1" y="189.2" width="23.40" height="118.00" fill="#0b6aad"/>
<line x1="47.85" y1="182.4" x2="47.85" y2="196.3" stroke="#444" stroke-width="0.5"/>
<line x1="46.25" y1="182.4" x2="49.45" y2="182.4" stroke="#444" stroke-width="0.5"/>
<line x1="46.25" y1="196.3" x2="49.45" y2="196.3" stroke="#444" stroke-width="0.5"/>
<line x1="71.15" y1="292.3" x2="71.15" y2="298.6" stroke="#444" stroke-width="0.5"/>
<line x1="69.55" y1="292.3" x2="72.75" y2="292.3" stroke="#444" stroke-width="0.5"/>
<line x1="69.55" y1="298.6" x2="72.75" y2="298.6" stroke="#444" stroke-width="0.5"/>
<line x1="105.85" y1="271.9" x2="105.85" y2="278.7" stroke="#444" stroke-width="0.5"/>
<line x1="104.25" y1="271.9" x2="107.45" y2="271.9" stroke="#444" stroke-width="0.5"/>
<line x1="104.25" y1="278.7" x2="107.45" y2="278.7" stroke="#444" stroke-width="0.5"/>
<line x1="129.30" y1="216.3" x2="129.30" y2="250.3" stroke="#444" stroke-width="0.5"/>
<line x1="127.70" y1="216.3" x2="130.90" y2="216.3" stroke="#444" stroke-width="0.5"/>
<line x1="127.70" y1="250.3" x2="130.90" y2="250.3" stroke="#444" stroke-width="0.5"/>
<line x1="164.50" y1="185.3" x2="164.50" y2="196.4" stroke="#444" stroke-width="0.5"/>
<line x1="162.90" y1="185.3" x2="166.10" y2="185.3" stroke="#444" stroke-width="0.5"/>
<line x1="162.90" y1="196.4" x2="166.10" y2="196.4" stroke="#444" stroke-width="0.5"/>
<line x1="187.80" y1="170.4" x2="187.80" y2="207.2" stroke="#444" stroke-width="0.5"/>
<line x1="186.20" y1="170.4" x2="189.40" y2="170.4" stroke="#444" stroke-width="0.5"/>
<line x1="186.20" y1="207.2" x2="189.40" y2="207.2" stroke="#444" stroke-width="0.5"/>
<line x1="30.5" y1="166.5" x2="205.2" y2="166.5" stroke="#262626" stroke-width="1"/>
<line x1="30.5" y1="307.2" x2="205.2" y2="307.2" stroke="#262626" stroke-width="1"/>
<line x1="30.5" y1="166.5" x2="30.5" y2="307.2" stroke="#ff8a8a" stroke-width="1"/>
<line x1="205.2" y1="166.5" x2="205.2" y2="307.2" stroke="#3b8dc6" stroke-width="1"/>
<line x1="28.0" y1="307.20" x2="30.5" y2="307.20" stroke="#ff8a8a" stroke-width="0.9"/>
<text transform="translate(26.0,310.80) scale(0.88,1)" font-size="10" text-anchor="end" fill="#f86c6c" stroke="#f86c6c" stroke-width="0.05" font-family='"Liberation Sans", sans-serif'>0</text>
<line x1="28.0" y1="281.62" x2="30.5" y2="281.62" stroke="#ff8a8a" stroke-width="0.9"/>
<text transform="translate(26.0,285.22) scale(0.88,1)" font-size="10" text-anchor="end" fill="#f86c6c" stroke="#f86c6c" stroke-width="0.05" font-family='"Liberation Sans", sans-serif'>20</text>
<line x1="28.0" y1="256.04" x2="30.5" y2="256.04" stroke="#ff8a8a" stroke-width="0.9"/>
<text transform="translate(26.0,259.64) scale(0.88,1)" font-size="10" text-anchor="end" fill="#f86c6c" stroke="#f86c6c" stroke-width="0.05" font-family='"Liberation Sans", sans-serif'>40</text>
<line x1="28.0" y1="230.45" x2="30.5" y2="230.45" stroke="#ff8a8a" stroke-width="0.9"/>
<text transform="translate(26.0,234.05) scale(0.88,1)" font-size="10" text-anchor="end" fill="#f86c6c" stroke="#f86c6c" stroke-width="0.05" font-family='"Liberation Sans", sans-serif'>60</text>
<line x1="28.0" y1="204.87" x2="30.5" y2="204.87" stroke="#ff8a8a" stroke-width="0.9"/>
<text transform="translate(26.0,208.47) scale(0.88,1)" font-size="10" text-anchor="end" fill="#f86c6c" stroke="#f86c6c" stroke-width="0.05" font-family='"Liberation Sans", sans-serif'>80</text>
<line x1="28.0" y1="179.29" x2="30.5" y2="179.29" stroke="#ff8a8a" stroke-width="0.9"/>
<text transform="translate(26.0,182.89) scale(0.88,1)" font-size="10" text-anchor="end" fill="#f86c6c" stroke="#f86c6c" stroke-width="0.05" font-family='"Liberation Sans", sans-serif'>100</text>
<line x1="29.0" y1="294.41" x2="30.5" y2="294.41" stroke="#ff8a8a" stroke-width="0.9"/>
<line x1="29.0" y1="268.83" x2="30.5" y2="268.83" stroke="#ff8a8a" stroke-width="0.9"/>
<line x1="29.0" y1="243.25" x2="30.5" y2="243.25" stroke="#ff8a8a" stroke-width="0.9"/>
<line x1="29.0" y1="217.66" x2="30.5" y2="217.66" stroke="#ff8a8a" stroke-width="0.9"/>
<line x1="29.0" y1="192.08" x2="30.5" y2="192.08" stroke="#ff8a8a" stroke-width="0.9"/>
<line x1="205.2" y1="307.20" x2="207.7" y2="307.20" stroke="#3b8dc6" stroke-width="0.9"/>
<text transform="translate(210.2,310.80) scale(0.88,1)" font-size="10" text-anchor="start" fill="#2d82c0" stroke="#2d82c0" stroke-width="0.05" font-family='"Liberation Sans", sans-serif'>0</text>
<line x1="205.2" y1="285.55" x2="207.7" y2="285.55" stroke="#3b8dc6" stroke-width="0.9"/>
<text transform="translate(210.2,289.15) scale(0.88,1)" font-size="10" text-anchor="start" fill="#2d82c0" stroke="#2d82c0" stroke-width="0.05" font-family='"Liberation Sans", sans-serif'>2</text>
<line x1="205.2" y1="263.91" x2="207.7" y2="263.91" stroke="#3b8dc6" stroke-width="0.9"/>
<text transform="translate(210.2,267.51) scale(0.88,1)" font-size="10" text-anchor="start" fill="#2d82c0" stroke="#2d82c0" stroke-width="0.05" font-family='"Liberation Sans", sans-serif'>4</text>
<line x1="205.2" y1="242.26" x2="207.7" y2="242.26" stroke="#3b8dc6" stroke-width="0.9"/>
<text transform="translate(210.2,245.86) scale(0.88,1)" font-size="10" text-anchor="start" fill="#2d82c0" stroke="#2d82c0" stroke-width="0.05" font-family='"Liberation Sans", sans-serif'>6</text>
<line x1="205.2" y1="220.62" x2="207.7" y2="220.62" stroke="#3b8dc6" stroke-width="0.9"/>
<text transform="translate(210.2,224.22) scale(0.88,1)" font-size="10" text-anchor="start" fill="#2d82c0" stroke="#2d82c0" stroke-width="0.05" font-family='"Liberation Sans", sans-serif'>8</text>
<line x1="205.2" y1="198.97" x2="207.7" y2="198.97" stroke="#3b8dc6" stroke-width="0.9"/>
<text transform="translate(210.2,202.57) scale(0.88,1)" font-size="10" text-anchor="start" fill="#2d82c0" stroke="#2d82c0" stroke-width="0.05" font-family='"Liberation Sans", sans-serif'>10</text>
<line x1="205.2" y1="177.32" x2="207.7" y2="177.32" stroke="#3b8dc6" stroke-width="0.9"/>
<text transform="translate(210.2,180.92) scale(0.88,1)" font-size="10" text-anchor="start" fill="#2d82c0" stroke="#2d82c0" stroke-width="0.05" font-family='"Liberation Sans", sans-serif'>12</text>
<line x1="205.2" y1="296.38" x2="206.7" y2="296.38" stroke="#3b8dc6" stroke-width="0.9"/>
<line x1="205.2" y1="274.73" x2="206.7" y2="274.73" stroke="#3b8dc6" stroke-width="0.9"/>
<line x1="205.2" y1="253.08" x2="206.7" y2="253.08" stroke="#3b8dc6" stroke-width="0.9"/>
<line x1="205.2" y1="231.44" x2="206.7" y2="231.44" stroke="#3b8dc6" stroke-width="0.9"/>
<line x1="205.2" y1="209.79" x2="206.7" y2="209.79" stroke="#3b8dc6" stroke-width="0.9"/>
<line x1="205.2" y1="188.15" x2="206.7" y2="188.15" stroke="#3b8dc6" stroke-width="0.9"/>
<text x="53.7" y="319" font-size="10.2" text-anchor="middle" fill="#000" font-family='"Liberation Sans", sans-serif' stroke="#000" stroke-width="0.15">PyC</text>
<text x="118.9" y="319" font-size="10.2" text-anchor="middle" fill="#000" font-family='"Liberation Sans", sans-serif' stroke="#000" stroke-width="0.15">SiO<tspan font-size="7" dy="2.5">2</tspan><tspan dy="-2.5"></tspan></text>
<text x="177.2" y="319" font-size="10.2" text-anchor="middle" fill="#000" font-family='"Liberation Sans", sans-serif' stroke="#000" stroke-width="0.15">SiO<tspan font-size="7" dy="2.5">2</tspan><tspan dy="-2.5">/PyC</tspan></text>
<text transform="translate(-0.7,174.6) scale(0.88,1)" font-size="15.5" fill="#111" font-family='"Liberation Sans", sans-serif'>d</text>
<text transform="translate(8.3,243.8) rotate(-90) scale(0.985,1)" font-size="11" text-anchor="middle" fill="#000" stroke="#000" stroke-width="0.06" font-family='"Liberation Sans", sans-serif'>Resilience at 80% strain (%)</text>
<text transform="translate(231.6,242.1) rotate(-90) scale(0.985,1)" font-size="11" text-anchor="middle" fill="#000" stroke="#000" stroke-width="0.06" font-family='"Liberation Sans", sans-serif'>Maximum stress (MPa)</text>
<rect x="267.1" y="294.1" width="23.10" height="13.10" fill="#fe6e6e"/>
<rect x="290.2" y="205.4" width="23.30" height="101.80" fill="#0b6aad"/>
<rect x="325.2" y="262.2" width="23.40" height="45.00" fill="#fe6e6e"/>
<rect x="348.6" y="219.3" width="23.40" height="87.90" fill="#0b6aad"/>
<rect x="383.5" y="203.8" width="23.50" height="103.40" fill="#fe6e6e"/>
<rect x="407.0" y="292.9" width="23.20" height="14.30" fill="#0b6aad"/>
<line x1="278.65" y1="291.2" x2="278.65" y2="297.5" stroke="#444" stroke-width="0.5"/>
<line x1="277.05" y1="291.2" x2="280.25" y2="291.2" stroke="#444" stroke-width="0.5"/>
<line x1="277.05" y1="297.5" x2="280.25" y2="297.5" stroke="#444" stroke-width="0.5"/>
<line x1="301.85" y1="191.3" x2="301.85" y2="219.3" stroke="#444" stroke-width="0.5"/>
<line x1="300.25" y1="191.3" x2="303.45" y2="191.3" stroke="#444" stroke-width="0.5"/>
<line x1="300.25" y1="219.3" x2="303.45" y2="219.3" stroke="#444" stroke-width="0.5"/>
<line x1="336.90" y1="257.4" x2="336.90" y2="267.3" stroke="#444" stroke-width="0.5"/>
<line x1="335.30" y1="257.4" x2="338.50" y2="257.4" stroke="#444" stroke-width="0.5"/>
<line x1="335.30" y1="267.3" x2="338.50" y2="267.3" stroke="#444" stroke-width="0.5"/>
<line x1="360.30" y1="208.8" x2="360.30" y2="230.5" stroke="#444" stroke-width="0.5"/>
<line x1="358.70" y1="208.8" x2="361.90" y2="208.8" stroke="#444" stroke-width="0.5"/>
<line x1="358.70" y1="230.5" x2="361.90" y2="230.5" stroke="#444" stroke-width="0.5"/>
<line x1="395.25" y1="194.6" x2="395.25" y2="213.4" stroke="#444" stroke-width="0.5"/>
<line x1="393.65" y1="194.6" x2="396.85" y2="194.6" stroke="#444" stroke-width="0.5"/>
<line x1="393.65" y1="213.4" x2="396.85" y2="213.4" stroke="#444" stroke-width="0.5"/>
<line x1="418.60" y1="289.5" x2="418.60" y2="297.5" stroke="#444" stroke-width="0.5"/>
<line x1="417.00" y1="289.5" x2="420.20" y2="289.5" stroke="#444" stroke-width="0.5"/>
<line x1="417.00" y1="297.5" x2="420.20" y2="297.5" stroke="#444" stroke-width="0.5"/>
<line x1="261.7" y1="166.7" x2="436.3" y2="166.7" stroke="#262626" stroke-width="1"/>
<line x1="261.7" y1="307.2" x2="436.3" y2="307.2" stroke="#262626" stroke-width="1"/>
<line x1="261.7" y1="166.7" x2="261.7" y2="307.2" stroke="#ff8a8a" stroke-width="1"/>
<line x1="436.3" y1="166.7" x2="436.3" y2="307.2" stroke="#3b8dc6" stroke-width="1"/>
<line x1="259.2" y1="307.20" x2="261.7" y2="307.20" stroke="#ff8a8a" stroke-width="0.9"/>
<text transform="translate(257.2,310.80) scale(0.88,1)" font-size="10" text-anchor="end" fill="#f86c6c" stroke="#f86c6c" stroke-width="0.05" font-family='"Liberation Sans", sans-serif'>0</text>
<line x1="259.2" y1="269.73" x2="261.7" y2="269.73" stroke="#ff8a8a" stroke-width="0.9"/>
<text transform="translate(257.2,273.33) scale(0.88,1)" font-size="10" text-anchor="end" fill="#f86c6c" stroke="#f86c6c" stroke-width="0.05" font-family='"Liberation Sans", sans-serif'>2</text>
<line x1="259.2" y1="232.27" x2="261.7" y2="232.27" stroke="#ff8a8a" stroke-width="0.9"/>
<text transform="translate(257.2,235.87) scale(0.88,1)" font-size="10" text-anchor="end" fill="#f86c6c" stroke="#f86c6c" stroke-width="0.05" font-family='"Liberation Sans", sans-serif'>4</text>
<line x1="259.2" y1="194.80" x2="261.7" y2="194.80" stroke="#ff8a8a" stroke-width="0.9"/>
<text transform="translate(257.2,198.40) scale(0.88,1)" font-size="10" text-anchor="end" fill="#f86c6c" stroke="#f86c6c" stroke-width="0.05" font-family='"Liberation Sans", sans-serif'>6</text>
<line x1="260.2" y1="288.47" x2="261.7" y2="288.47" stroke="#ff8a8a" stroke-width="0.9"/>
<line x1="260.2" y1="251.00" x2="261.7" y2="251.00" stroke="#ff8a8a" stroke-width="0.9"/>
<line x1="260.2" y1="213.53" x2="261.7" y2="213.53" stroke="#ff8a8a" stroke-width="0.9"/>
<line x1="260.2" y1="176.07" x2="261.7" y2="176.07" stroke="#ff8a8a" stroke-width="0.9"/>
<line x1="436.3" y1="307.20" x2="438.8" y2="307.20" stroke="#3b8dc6" stroke-width="0.9"/>
<text transform="translate(441.3,310.80) scale(0.88,1)" font-size="10" text-anchor="start" fill="#2d82c0" stroke="#2d82c0" stroke-width="0.05" font-family='"Liberation Sans", sans-serif'>0.0</text>
<line x1="436.3" y1="272.07" x2="438.8" y2="272.07" stroke="#3b8dc6" stroke-width="0.9"/>
<text transform="translate(441.3,275.68) scale(0.88,1)" font-size="10" text-anchor="start" fill="#2d82c0" stroke="#2d82c0" stroke-width="0.05" font-family='"Liberation Sans", sans-serif'>0.1</text>
<line x1="436.3" y1="236.95" x2="438.8" y2="236.95" stroke="#3b8dc6" stroke-width="0.9"/>
<text transform="translate(441.3,240.55) scale(0.88,1)" font-size="10" text-anchor="start" fill="#2d82c0" stroke="#2d82c0" stroke-width="0.05" font-family='"Liberation Sans", sans-serif'>0.2</text>
<line x1="436.3" y1="201.82" x2="438.8" y2="201.82" stroke="#3b8dc6" stroke-width="0.9"/>
<text transform="translate(441.3,205.42) scale(0.88,1)" font-size="10" text-anchor="start" fill="#2d82c0" stroke="#2d82c0" stroke-width="0.05" font-family='"Liberation Sans", sans-serif'>0.3</text>
<line x1="436.3" y1="166.70" x2="438.8" y2="166.70" stroke="#3b8dc6" stroke-width="0.9"/>
<text transform="translate(441.3,170.30) scale(0.88,1)" font-size="10" text-anchor="start" fill="#2d82c0" stroke="#2d82c0" stroke-width="0.05" font-family='"Liberation Sans", sans-serif'>0.4</text>
<line x1="436.3" y1="289.64" x2="437.8" y2="289.64" stroke="#3b8dc6" stroke-width="0.9"/>
<line x1="436.3" y1="254.51" x2="437.8" y2="254.51" stroke="#3b8dc6" stroke-width="0.9"/>
<line x1="436.3" y1="219.39" x2="437.8" y2="219.39" stroke="#3b8dc6" stroke-width="0.9"/>
<line x1="436.3" y1="184.26" x2="437.8" y2="184.26" stroke="#3b8dc6" stroke-width="0.9"/>
<text x="288.2" y="319" font-size="10.2" text-anchor="middle" fill="#000" font-family='"Liberation Sans", sans-serif' stroke="#000" stroke-width="0.15">PyC</text>
<text x="349.5" y="319" font-size="10.2" text-anchor="middle" fill="#000" font-family='"Liberation Sans", sans-serif' stroke="#000" stroke-width="0.15">SiO<tspan font-size="7" dy="2.5">2</tspan><tspan dy="-2.5"></tspan></text>
<text x="408.6" y="319" font-size="10.2" text-anchor="middle" fill="#000" font-family='"Liberation Sans", sans-serif' stroke="#000" stroke-width="0.15">SiO<tspan font-size="7" dy="2.5">2</tspan><tspan dy="-2.5">/PyC</tspan></text>
<text transform="translate(237.4,172.6) scale(0.88,1)" font-size="15.5" fill="#111" font-family='"Liberation Sans", sans-serif'>e</text>
<text transform="translate(246.6,243.4) rotate(-90) scale(0.985,1)" font-size="11" text-anchor="middle" fill="#000" stroke="#000" stroke-width="0.06" font-family='"Liberation Sans", sans-serif'>Compressive modulus (MPa)</text>
<text transform="translate(465,238.3) rotate(-90) scale(0.955,1)" font-size="11" text-anchor="middle" fill="#000" stroke="#000" stroke-width="0.06" font-family='"Liberation Sans", sans-serif'>Energy loss coefficiency</text>
<g>
<path d="M626.00,195.60 C622.65,198.72 618.73,201.27 615.40,205.00 C612.07,208.73 608.40,213.83 606.00,218.00 C603.60,222.17 602.17,225.67 601.00,230.00 C599.83,234.33 598.83,240.50 599.00,244.00 C599.17,247.50 600.33,249.17 602.00,251.00 C603.67,252.83 606.40,253.90 609.00,255.00 C611.60,256.10 612.43,256.97 617.60,257.60 C622.77,258.23 633.77,259.07 640.00,258.80 C646.23,258.53 651.17,258.13 655.00,256.00 C658.83,253.87 661.00,250.00 663.00,246.00 C665.00,242.00 665.67,237.17 667.00,232.00 C668.33,226.83 669.83,220.50 671.00,215.00 C672.17,209.50 673.17,204.33 674.00,199.00 C674.83,193.67 675.75,187.50 676.00,183.00 C676.25,178.50 676.00,174.45 675.50,172.00 C675.00,169.55 674.52,168.75 673.00,168.30 C671.48,167.85 670.07,168.10 666.40,169.30 C662.73,170.50 656.15,172.67 651.00,175.50 C645.85,178.33 639.67,182.95 635.50,186.30 C631.33,189.65 629.35,192.48 626.00,195.60Z" fill="#a0e0f8"/>
<path d="M562.00,240.00 C562.17,235.33 562.00,226.50 563.00,222.00 C564.00,217.50 565.50,215.08 568.00,213.00 C570.50,210.92 573.50,210.08 578.00,209.50 C582.50,208.92 589.17,208.92 595.00,209.50 C600.83,210.08 604.67,210.83 613.00,213.00 C621.33,215.17 636.33,219.33 645.00,222.50 C653.67,225.67 659.83,228.25 665.00,232.00 C670.17,235.75 675.50,241.00 676.00,245.00 C676.50,249.00 673.17,253.33 668.00,256.00 C662.83,258.67 652.17,259.83 645.00,261.00 C637.83,262.17 635.83,262.75 625.00,263.00 C614.17,263.25 589.50,263.17 580.00,262.50 C570.50,261.83 571.00,261.08 568.00,259.00 C565.00,256.92 563.00,253.17 562.00,250.00 C561.00,246.83 561.83,244.67 562.00,240.00Z" fill="#25b669" fill-opacity="0.4"/>
<path d="M640.00,203.40 C644.50,203.65 648.67,206.07 652.00,208.00 C655.33,209.93 657.50,211.17 660.00,215.00 C662.50,218.83 665.25,225.67 667.00,231.00 C668.75,236.33 670.08,241.83 670.50,247.00 C670.92,252.17 670.75,257.67 669.50,262.00 C668.25,266.33 665.92,270.20 663.00,273.00 C660.08,275.80 656.00,278.13 652.00,278.80 C648.00,279.47 643.00,278.38 639.00,277.00 C635.00,275.62 630.83,272.83 628.00,270.50 C625.17,268.17 624.33,266.08 622.00,263.00 C619.67,259.92 615.83,255.83 614.00,252.00 C612.17,248.17 611.67,244.00 611.00,240.00 C610.33,236.00 609.57,232.38 610.00,228.00 C610.43,223.62 611.10,217.28 613.60,213.70 C616.10,210.12 620.60,208.22 625.00,206.50 C629.40,204.78 635.50,203.15 640.00,203.40Z" fill="#fbc116" fill-opacity="0.45"/>
<ellipse cx="570" cy="216" rx="24.5" ry="8.6" transform="rotate(9 570 216)" fill="#f1ef29" fill-opacity="0.5"/>
<rect x="505.3" y="166.2" width="177.3" height="130.0" fill="none" stroke="#262626" stroke-width="1"/>
<line x1="515.30" y1="296.2" x2="515.30" y2="298.7" stroke="#262626" stroke-width="0.9"/>
<text transform="translate(515.30,307.7) scale(0.875,1)" font-size="9.9" text-anchor="middle" fill="#000" stroke="#000" stroke-width="0.05" font-family='"Liberation Sans", sans-serif'>20</text>
<line x1="554.74" y1="296.2" x2="554.74" y2="298.7" stroke="#262626" stroke-width="0.9"/>
<text transform="translate(554.74,307.7) scale(0.875,1)" font-size="9.9" text-anchor="middle" fill="#000" stroke="#000" stroke-width="0.05" font-family='"Liberation Sans", sans-serif'>40</text>
<line x1="594.18" y1="296.2" x2="594.18" y2="298.7" stroke="#262626" stroke-width="0.9"/>
<text transform="translate(594.18,307.7) scale(0.875,1)" font-size="9.9" text-anchor="middle" fill="#000" stroke="#000" stroke-width="0.05" font-family='"Liberation Sans", sans-serif'>60</text>
<line x1="633.62" y1="296.2" x2="633.62" y2="298.7" stroke="#262626" stroke-width="0.9"/>
<text transform="translate(633.62,307.7) scale(0.875,1)" font-size="9.9" text-anchor="middle" fill="#000" stroke="#000" stroke-width="0.05" font-family='"Liberation Sans", sans-serif'>80</text>
<line x1="673.06" y1="296.2" x2="673.06" y2="298.7" stroke="#262626" stroke-width="0.9"/>
<text transform="translate(673.06,307.7) scale(0.875,1)" font-size="9.9" text-anchor="middle" fill="#000" stroke="#000" stroke-width="0.05" font-family='"Liberation Sans", sans-serif'>100</text>
<line x1="535.02" y1="296.2" x2="535.02" y2="297.7" stroke="#262626" stroke-width="0.9"/>
<line x1="574.46" y1="296.2" x2="574.46" y2="297.7" stroke="#262626" stroke-width="0.9"/>
<line x1="613.90" y1="296.2" x2="613.90" y2="297.7" stroke="#262626" stroke-width="0.9"/>
<line x1="653.34" y1="296.2" x2="653.34" y2="297.7" stroke="#262626" stroke-width="0.9"/>
<line x1="502.8" y1="296.60" x2="505.3" y2="296.60" stroke="#262626" stroke-width="0.9"/>
<text transform="translate(501.7,300.10) scale(0.9,1)" font-size="9.6" text-anchor="end" fill="#000" font-family='"Liberation Sans", sans-serif'>10<tspan font-size="5.2" dy="-4.2">-3</tspan></text>
<line x1="502.8" y1="269.50" x2="505.3" y2="269.50" stroke="#262626" stroke-width="0.9"/>
<text transform="translate(501.7,273.00) scale(0.9,1)" font-size="9.6" text-anchor="end" fill="#000" font-family='"Liberation Sans", sans-serif'>10<tspan font-size="5.2" dy="-4.2">-2</tspan></text>
<line x1="502.8" y1="242.40" x2="505.3" y2="242.40" stroke="#262626" stroke-width="0.9"/>
<text transform="translate(501.7,245.90) scale(0.9,1)" font-size="9.6" text-anchor="end" fill="#000" font-family='"Liberation Sans", sans-serif'>10<tspan font-size="5.2" dy="-4.2">-1</tspan></text>
<line x1="502.8" y1="215.30" x2="505.3" y2="215.30" stroke="#262626" stroke-width="0.9"/>
<text transform="translate(501.7,218.80) scale(0.9,1)" font-size="9.6" text-anchor="end" fill="#000" font-family='"Liberation Sans", sans-serif'>10<tspan font-size="5.2" dy="-4.2">0</tspan></text>
<line x1="502.8" y1="188.20" x2="505.3" y2="188.20" stroke="#262626" stroke-width="0.9"/>
<text transform="translate(501.7,191.70) scale(0.9,1)" font-size="9.6" text-anchor="end" fill="#000" font-family='"Liberation Sans", sans-serif'>10<tspan font-size="5.2" dy="-4.2">1</tspan></text>
<line x1="504.0" y1="288.44" x2="505.3" y2="288.44" stroke="#262626" stroke-width="0.7"/>
<line x1="504.0" y1="283.67" x2="505.3" y2="283.67" stroke="#262626" stroke-width="0.7"/>
<line x1="504.0" y1="280.28" x2="505.3" y2="280.28" stroke="#262626" stroke-width="0.7"/>
<line x1="504.0" y1="277.66" x2="505.3" y2="277.66" stroke="#262626" stroke-width="0.7"/>
<line x1="504.0" y1="275.51" x2="505.3" y2="275.51" stroke="#262626" stroke-width="0.7"/>
<line x1="504.0" y1="273.70" x2="505.3" y2="273.70" stroke="#262626" stroke-width="0.7"/>
<line x1="504.0" y1="272.13" x2="505.3" y2="272.13" stroke="#262626" stroke-width="0.7"/>
<line x1="504.0" y1="270.74" x2="505.3" y2="270.74" stroke="#262626" stroke-width="0.7"/>
<line x1="504.0" y1="261.34" x2="505.3" y2="261.34" stroke="#262626" stroke-width="0.7"/>
<line x1="504.0" y1="256.57" x2="505.3" y2="256.57" stroke="#262626" stroke-width="0.7"/>
<line x1="504.0" y1="253.18" x2="505.3" y2="253.18" stroke="#262626" stroke-width="0.7"/>
<line x1="504.0" y1="250.56" x2="505.3" y2="250.56" stroke="#262626" stroke-width="0.7"/>
<line x1="504.0" y1="248.41" x2="505.3" y2="248.41" stroke="#262626" stroke-width="0.7"/>
<line x1="504.0" y1="246.60" x2="505.3" y2="246.60" stroke="#262626" stroke-width="0.7"/>
<line x1="504.0" y1="245.03" x2="505.3" y2="245.03" stroke="#262626" stroke-width="0.7"/>
<line x1="504.0" y1="243.64" x2="505.3" y2="243.64" stroke="#262626" stroke-width="0.7"/>
<line x1="504.0" y1="234.24" x2="505.3" y2="234.24" stroke="#262626" stroke-width="0.7"/>
<line x1="504.0" y1="229.47" x2="505.3" y2="229.47" stroke="#262626" stroke-width="0.7"/>
<line x1="504.0" y1="226.08" x2="505.3" y2="226.08" stroke="#262626" stroke-width="0.7"/>
<line x1="504.0" y1="223.46" x2="505.3" y2="223.46" stroke="#262626" stroke-width="0.7"/>
<line x1="504.0" y1="221.31" x2="505.3" y2="221.31" stroke="#262626" stroke-width="0.7"/>
<line x1="504.0" y1="219.50" x2="505.3" y2="219.50" stroke="#262626" stroke-width="0.7"/>
<line x1="504.0" y1="217.93" x2="505.3" y2="217.93" stroke="#262626" stroke-width="0.7"/>
<line x1="504.0" y1="216.54" x2="505.3" y2="216.54" stroke="#262626" stroke-width="0.7"/>
<line x1="504.0" y1="207.14" x2="505.3" y2="207.14" stroke="#262626" stroke-width="0.7"/>
<line x1="504.0" y1="202.37" x2="505.3" y2="202.37" stroke="#262626" stroke-width="0.7"/>
<line x1="504.0" y1="198.98" x2="505.3" y2="198.98" stroke="#262626" stroke-width="0.7"/>
<line x1="504.0" y1="196.36" x2="505.3" y2="196.36" stroke="#262626" stroke-width="0.7"/>
<line x1="504.0" y1="194.21" x2="505.3" y2="194.21" stroke="#262626" stroke-width="0.7"/>
<line x1="504.0" y1="192.40" x2="505.3" y2="192.40" stroke="#262626" stroke-width="0.7"/>
<line x1="504.0" y1="190.83" x2="505.3" y2="190.83" stroke="#262626" stroke-width="0.7"/>
<line x1="504.0" y1="189.44" x2="505.3" y2="189.44" stroke="#262626" stroke-width="0.7"/>
<line x1="504.0" y1="180.04" x2="505.3" y2="180.04" stroke="#262626" stroke-width="0.7"/>
<line x1="504.0" y1="175.27" x2="505.3" y2="175.27" stroke="#262626" stroke-width="0.7"/>
<line x1="504.0" y1="171.88" x2="505.3" y2="171.88" stroke="#262626" stroke-width="0.7"/>
<line x1="504.0" y1="169.26" x2="505.3" y2="169.26" stroke="#262626" stroke-width="0.7"/>
<line x1="504.0" y1="167.11" x2="505.3" y2="167.11" stroke="#262626" stroke-width="0.7"/>
<text x="594.3" y="319.5" font-size="10.1" text-anchor="middle" fill="#000" font-family='"Liberation Sans", sans-serif' stroke="#000" stroke-width="0.15">Recoverable strain (%)</text>
<text transform="translate(483.5,231.9) rotate(-90) scale(0.953,1)" font-size="10.6" text-anchor="middle" fill="#000" stroke="#000" stroke-width="0.06" font-family='"Liberation Sans", sans-serif'>Ultimate stress (MPa)</text>
<text transform="translate(485.8,176.7) scale(0.88,1)" font-size="15.5" fill="#111" font-family='"Liberation Sans", sans-serif'>f</text>
<circle cx="667.2" cy="170.5" r="2.1" fill="#6a2cf0"/>
<text x="670" y="172.10" font-size="4.6" text-anchor="start" fill="#333" font-family='"Liberation Sans", sans-serif'>(44)</text>
<circle cx="550.5" cy="213" r="2.1" fill="#f28a1a"/>
<text x="553" y="214.60" font-size="4.6" text-anchor="start" fill="#333" font-family='"Liberation Sans", sans-serif'>(45)</text>
<path d="M572.40,213.00 L577.80,216.00 L572.40,219.00Z" fill="#1e8c1e"/>
<text x="571" y="217.60" font-size="4.6" text-anchor="end" fill="#333" font-family='"Liberation Sans", sans-serif'>(41)</text>
<circle cx="584.2" cy="215.6" r="1.9" fill="#f28a1a"/>
<text x="586.5" y="217.20" font-size="4.6" text-anchor="start" fill="#333" font-family='"Liberation Sans", sans-serif'>(43)</text>
<circle cx="582" cy="221" r="1.9" fill="#f28a1a"/>
<text x="584.5" y="222.80" font-size="4.6" text-anchor="start" fill="#333" font-family='"Liberation Sans", sans-serif'>(42)</text>
<path d="M572.40,253.40 L577.80,256.40 L572.40,259.40Z" fill="#1e8c1e"/>
<text x="578" y="258.20" font-size="4.6" text-anchor="start" fill="#333" font-family='"Liberation Sans", sans-serif'>(38)</text>
<circle cx="609.9" cy="226" r="2.1" fill="#6a2cf0"/>
<text x="607.5" y="227.60" font-size="4.6" text-anchor="end" fill="#333" font-family='"Liberation Sans", sans-serif'>(35)</text>
<circle cx="603.7" cy="232" r="2.1" fill="#6a2cf0"/>
<text x="601" y="233.60" font-size="4.6" text-anchor="end" fill="#333" font-family='"Liberation Sans", sans-serif'>(33)</text>
<rect x="631.70" y="211.30" width="3.4" height="3.4" fill="#4a9e52"/>
<text x="636" y="214.60" font-size="4.6" text-anchor="start" fill="#333" font-family='"Liberation Sans", sans-serif'>(29)</text>
<rect x="631.70" y="227.40" width="3.4" height="3.4" fill="#4a9e52"/>
<text x="636" y="230.70" font-size="4.6" text-anchor="start" fill="#333" font-family='"Liberation Sans", sans-serif'>(19)</text>
<path d="M631.60,231.50 L637.00,234.50 L631.60,237.50Z" fill="#1e8c1e"/>
<text x="631" y="236.10" font-size="4.6" text-anchor="end" fill="#333" font-family='"Liberation Sans", sans-serif'>(40)</text>
<rect x="651.90" y="232.90" width="3.4" height="3.4" fill="#4a9e52"/>
<text x="651" y="236.20" font-size="4.6" text-anchor="end" fill="#333" font-family='"Liberation Sans", sans-serif'>(30)</text>
<circle cx="662.8" cy="222.7" r="2.1" fill="#6a2cf0"/>
<text x="665.5" y="224.30" font-size="4.6" text-anchor="start" fill="#333" font-family='"Liberation Sans", sans-serif'>(34)</text>
<circle cx="662.8" cy="228.6" r="2.1" fill="#7a50c8"/>
<text x="665.5" y="230.20" font-size="4.6" text-anchor="start" fill="#333" font-family='"Liberation Sans", sans-serif'>(34)</text>
<circle cx="662.8" cy="234.2" r="2.1" fill="#8a8a8a"/>
<text x="665.5" y="235.80" font-size="4.6" text-anchor="start" fill="#333" font-family='"Liberation Sans", sans-serif'>(24)</text>
<rect x="661.10" y="236.20" width="3.4" height="3.4" fill="#4a9e52"/>
<text x="665.5" y="240.00" font-size="4.6" text-anchor="start" fill="#333" font-family='"Liberation Sans", sans-serif'>(17)</text>
<rect x="661.10" y="242.40" width="3.4" height="3.4" fill="#4a9e52"/>
<text x="660" y="245.20" font-size="4.6" text-anchor="end" fill="#333" font-family='"Liberation Sans", sans-serif'>(1)</text>
<circle cx="662.8" cy="248.4" r="2.1" fill="#8a8a8a"/>
<text x="665.5" y="250.60" font-size="4.6" text-anchor="start" fill="#333" font-family='"Liberation Sans", sans-serif'>(25)</text>
<path d="M667.30,241.70 L672.70,244.70 L667.30,247.70Z" fill="#1e8c1e"/>
<text x="673" y="246.30" font-size="4.6" text-anchor="start" fill="#333" font-family='"Liberation Sans", sans-serif'>(26)</text>
<circle cx="653.3" cy="246.8" r="2.1" fill="#8a8a8a"/>
<text x="650.5" y="248.40" font-size="4.6" text-anchor="end" fill="#333" font-family='"Liberation Sans", sans-serif'>(37)</text>
<path d="M611.50,250.00 L616.90,253.00 L611.50,256.00Z" fill="#1e8c1e"/>
<text x="617" y="254.60" font-size="4.6" text-anchor="start" fill="#333" font-family='"Liberation Sans", sans-serif'>(39)</text>
<rect x="624.10" y="257.50" width="3.4" height="3.4" fill="#4a9e52"/>
<text x="623" y="260.30" font-size="4.6" text-anchor="end" fill="#333" font-family='"Liberation Sans", sans-serif'>(31)</text>
<circle cx="633.5" cy="254.6" r="2.1" fill="#8a8a8a"/>
<text x="636" y="256.20" font-size="4.6" text-anchor="start" fill="#333" font-family='"Liberation Sans", sans-serif'>(36)</text>
<rect x="631.50" y="264.90" width="3.4" height="3.4" fill="#4a9e52"/>
<text x="636" y="268.20" font-size="4.6" text-anchor="start" fill="#333" font-family='"Liberation Sans", sans-serif'>(12)</text>
<rect x="651.60" y="261.80" width="3.4" height="3.4" fill="#4a9e52"/>
<text x="656" y="265.10" font-size="4.6" text-anchor="start" fill="#333" font-family='"Liberation Sans", sans-serif'>(11)</text>
<polygon points="633.40,183.70 634.34,186.21 637.01,186.33 634.92,187.99 635.63,190.57 633.40,189.10 631.17,190.57 631.88,187.99 629.79,186.33 632.46,186.21" fill="#ff1a1a"/>
<text x="629.3" y="177.3" font-size="7.5" text-anchor="middle" fill="#ff1a1a" font-family='"Liberation Sans", sans-serif'>This work</text>
<line x1="633.6" y1="184" x2="635" y2="180.5" stroke="#ff1a1a" stroke-width="0.6"/>
<path d="M635.4,178.6 L633.9,181.2 L636.2,181.6Z" fill="#ff1a1a"/>
<text x="585.3" y="187" font-size="7.5" text-anchor="middle" fill="#000" font-family='"Liberation Sans", sans-serif' stroke-width="0">Graphene aerogels</text>
<line x1="619.5" y1="189" x2="627" y2="195.5" stroke="#222" stroke-width="0.6"/>
<path d="M617.5,187.6 L621.2,188.3 L619.6,190.5Z" fill="#222"/>
<text x="620.4" y="204.3" font-size="7.5" text-anchor="middle" fill="#000" font-family='"Liberation Sans", sans-serif' stroke-width="0">Ceramic aerogels</text>
<line x1="612.5" y1="207" x2="616.3" y2="213" stroke="#222" stroke-width="0.6"/>
<path d="M611.8,205.6 L614.5,207.9 L612.3,208.8Z" fill="#222"/>
<text x="545.1" y="201" font-size="7.5" text-anchor="middle" fill="#000" font-family='"Liberation Sans", sans-serif' stroke-width="0">Ceramic nanolattices</text>
<line x1="543" y1="203" x2="550.5" y2="208.5" stroke="#222" stroke-width="0.6"/>
<path d="M541.8,202.2 L545,203.2 L543.2,205Z" fill="#222"/>
<text x="535" y="224.4" font-size="7.5" text-anchor="middle" fill="#000" font-family='"Liberation Sans", sans-serif' stroke-width="0">Carbon aerogels</text>
<line x1="556" y1="227" x2="562.5" y2="234" stroke="#222" stroke-width="0.6"/>
<path d="M555,225.8 L558,227.3 L556,228.9Z" fill="#222"/>
<polygon points="511.70,257.50 512.42,259.41 514.46,259.50 512.86,260.78 513.40,262.75 511.70,261.62 510.00,262.75 510.54,260.78 508.94,259.50 510.98,259.41" fill="#ff1a1a"/>
<text x="520.6" y="262.6" font-size="6.25" text-anchor="start" fill="#000" font-family='"Liberation Sans", sans-serif' stroke-width="0">This work</text>
<rect x="510.10" y="267.00" width="3.2" height="3.2" fill="#2f8f8f"/>
<text x="520.6" y="270.8" font-size="6.25" text-anchor="start" fill="#000" font-family='"Liberation Sans", sans-serif' stroke-width="0">Ceramic aerogels</text>
<circle cx="511.7" cy="276.3" r="2.2" fill="#8a2ee8"/>
<text x="520.6" y="278.5" font-size="6.25" text-anchor="start" fill="#000" font-family='"Liberation Sans", sans-serif' stroke-width="0">Graphene aerogels</text>
<path d="M510.12,281.60 L514.80,284.20 L510.12,286.80Z" fill="#168a16"/>
<text x="520.6" y="286.4" font-size="6.25" text-anchor="start" fill="#000" font-family='"Liberation Sans", sans-serif' stroke-width="0">Carbon aerogels</text>
<circle cx="511.7" cy="291.6" r="2.2" fill="#ff8c1a"/>
<text x="520.6" y="293.8" font-size="6.25" text-anchor="start" fill="#000" font-family='"Liberation Sans", sans-serif' stroke-width="0">Ceramic nanolattices</text>
</g>
</svg></body></html>
